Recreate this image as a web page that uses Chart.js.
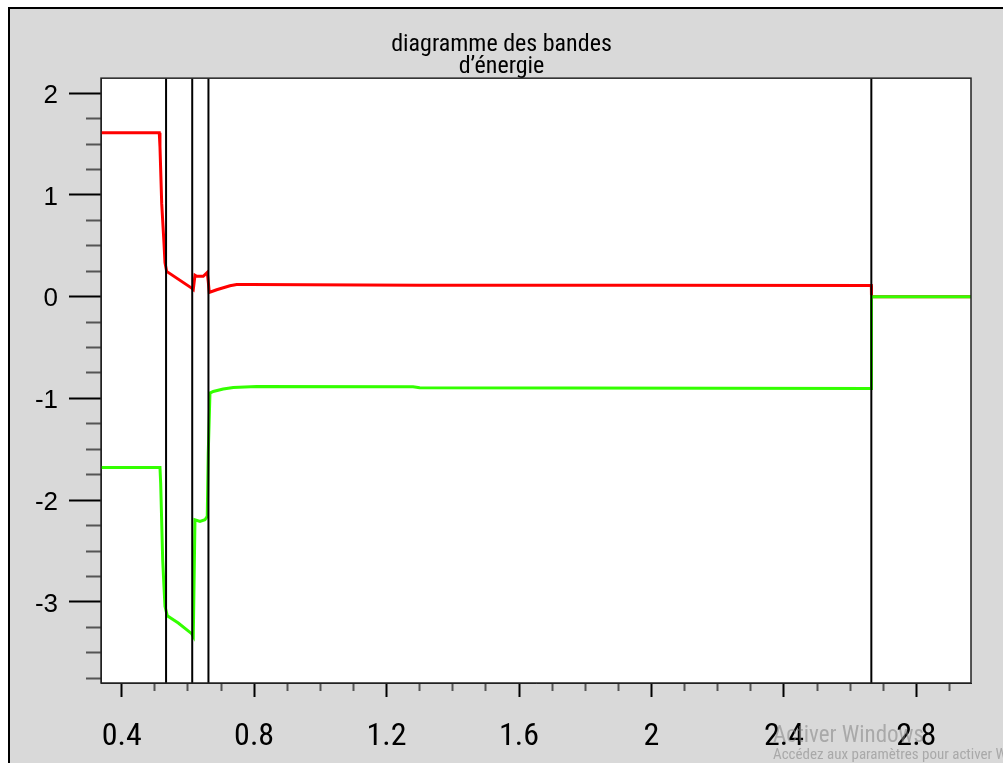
<html>

<head>
    <meta charset="utf-8">
    <title>diagramme des bandes d'énergie</title>
    <script src="https://cdn.jsdelivr.net/npm/chart.js@4.4.1/dist/chart.umd.min.js"></script>
    <style>
        body {
            margin: 0;
            background: #fff;
        }
    </style>
</head>

<body>
    <canvas id="bandes" width="1003" height="763"></canvas>

    <script>

        // bande de conduction (rouge)
        var ecX = [0.3375, 0.5135, 0.5156, 0.5208, 0.5277, 0.5307, 0.5358, 0.6113, 0.6162, 0.6213, 0.6264, 0.6463, 0.6584, 0.6614, 0.6645, 0.6868, 0.727, 0.7472, 0.7873, 1.3, 2.0, 2.664, 2.6645, 2.965];
        var ecY = [1.61, 1.61, 1.475, 0.919, 0.527, 0.336, 0.248, 0.084, 0.07, 0.21, 0.2, 0.2, 0.238, 0.15, 0.041, 0.068, 0.107, 0.12, 0.12, 0.113, 0.112, 0.11, 0.0, 0.0];

        // bande de valence (vert)
        var evX = [0.3375, 0.5156, 0.5177, 0.5238, 0.5277, 0.5307, 0.5377, 0.5709, 0.6113, 0.6162, 0.6213, 0.6364, 0.6515, 0.6584, 0.6614, 0.6666, 0.6765, 0.7067, 0.7369, 0.8075, 1.28, 1.3, 2.664, 2.6645, 2.965];
        var evY = [-1.678, -1.678, -1.831, -2.585, -2.847, -3.043, -3.135, -3.206, -3.311, -3.338, -2.192, -2.208, -2.192, -2.159, -1.537, -0.947, -0.931, -0.908, -0.892, -0.882, -0.885, -0.895, -0.902, 0.0, 0.0];

        // interfaces entre couches
        var interfaces = [0.534, 0.613, 0.662, 2.664];

        var xMin = 0.3375, xMax = 2.965;
        var yMin = -3.796, yMax = 2.147;
        var titleLines = ['diagramme des bandes', 'd\u2019énergie'];

        var NARROW = "'Liberation Sans Narrow', 'Arial Narrow', 'Roboto Condensed', sans-serif";

        function toPoints(xs, ys) {
            return xs.map(function (x, i) { return { x: x, y: ys[i] }; });
        }

        function isMultiple(v, step) {
            var r = v / step;
            return Math.abs(r - Math.round(r)) < 1e-6;
        }

        var datasets = interfaces.map(function (x) {
            return {
                data: [{ x: x, y: yMin }, { x: x, y: yMax }],
                borderColor: '#000',
                borderWidth: 2,
                order: 0
            };
        });
        datasets.push({
            label: 'Ev',
            data: toPoints(evX, evY),
            borderColor: '#33ff00',
            borderWidth: 3,
            order: 1
        });
        datasets.push({
            label: 'Ec',
            data: toPoints(ecX, ecY),
            borderColor: '#ff0000',
            borderWidth: 3,
            order: 2
        });

        var fondPlugin = {
            id: 'fond',
            beforeDraw: function (chart) {
                var ctx = chart.ctx, a = chart.chartArea;
                ctx.save();
                ctx.fillStyle = '#fff';
                ctx.fillRect(0, 0, chart.width, chart.height);
                ctx.fillStyle = '#d9d9d9';
                ctx.fillRect(9, 8, chart.width - 9, chart.height - 8);
                ctx.strokeStyle = '#000';
                ctx.lineWidth = 2;
                ctx.beginPath();
                ctx.moveTo(9, chart.height);
                ctx.lineTo(9, 8);
                ctx.lineTo(chart.width, 8);
                ctx.stroke();
                ctx.fillStyle = '#fff';
                ctx.fillRect(a.left, a.top, a.right - a.left, a.bottom - a.top);
                ctx.restore();
            },
            afterDraw: function (chart) {
                var ctx = chart.ctx, a = chart.chartArea;
                ctx.save();
                ctx.strokeStyle = '#222';
                ctx.lineWidth = 1.5;
                ctx.strokeRect(a.left, a.top, a.right - a.left, a.bottom - a.top);
                // filigrane windows
                ctx.fillStyle = 'rgba(130,130,130,0.55)';
                ctx.textBaseline = 'alphabetic';
                ctx.font = '23px ' + NARROW;
                ctx.fillText('Activer Windows', 773, 742);
                ctx.font = '15px ' + NARROW;
                ctx.fillText('Accédez aux paramètres pour activer Windows.', 773, 759);
                ctx.restore();
            }
        };

        var config = {
            type: 'line',
            data: { datasets: datasets },
            options: {
                responsive: false,
                animation: false,
                layout: { padding: 0 },
                elements: {
                    point: { radius: 0 },
                    line: { tension: 0, fill: false }
                },
                plugins: {
                    legend: { display: false },
                    tooltip: { enabled: false },
                    title: {
                        display: true,
                        text: titleLines,
                        color: '#000',
                        font: { family: NARROW, size: 24, weight: 'normal', lineHeight: 0.92 },
                        padding: { top: 34, bottom: 0 }
                    }
                },
                scales: {
                    x: {
                        type: 'linear',
                        min: xMin,
                        max: xMax,
                        afterFit: function (scale) { scale.height = 80; },
                        border: { color: '#222', width: 1 },
                        grid: {
                            drawOnChartArea: false,
                            tickLength: 14,
                            tickWidth: 2,
                            tickColor: function (c) { return c.tick && isMultiple(c.tick.value, 0.4) ? '#000' : '#555'; },
                            tickBorderDash: function (c) { return c.tick && isMultiple(c.tick.value, 0.4) ? [] : [7, 100]; }
                        },
                        ticks: {
                            stepSize: 0.1,
                            includeBounds: false,
                            autoSkip: false,
                            maxRotation: 0,
                            padding: 21,
                            color: '#000',
                            font: { family: NARROW, size: 32 },
                            callback: function (v) { return isMultiple(v, 0.4) ? String(Math.round(v * 10) / 10) : ''; }
                        }
                    },
                    y: {
                        type: 'linear',
                        position: 'left',
                        min: yMin,
                        max: yMax,
                        afterFit: function (scale) { scale.width = 101; },
                        border: { color: '#222', width: 1 },
                        grid: {
                            drawOnChartArea: false,
                            tickLength: 32,
                            tickWidth: 2,
                            tickColor: function (c) { return c.tick && isMultiple(c.tick.value, 1) ? '#000' : '#555'; },
                            tickBorderDash: function (c) { return c.tick && isMultiple(c.tick.value, 1) ? [] : [0, 17, 15, 100]; }
                        },
                        ticks: {
                            stepSize: 0.25,
                            includeBounds: false,
                            autoSkip: false,
                            padding: 11,
                            labelOffset: 2.5,
                            color: '#000',
                            font: { family: "'Liberation Sans', Arial, sans-serif", size: 26 },
                            callback: function (v) { return isMultiple(v, 1) ? String(Math.round(v)) : ''; }
                        }
                    },
                    marge: {
                        type: 'linear',
                        position: 'right',
                        display: true,
                        afterFit: function (scale) { scale.width = 32; },
                        border: { display: false },
                        grid: { display: false },
                        ticks: { display: false }
                    }
                }
            },
            plugins: [fondPlugin]
        };

        var bandesChart = new Chart(document.getElementById('bandes'), config);

    </script>
</body>

</html>
